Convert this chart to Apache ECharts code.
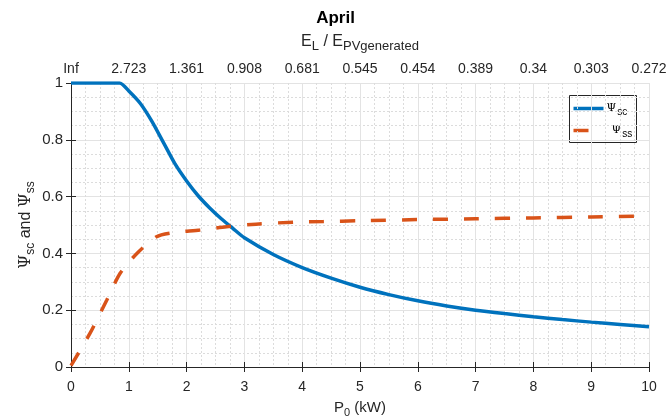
<!DOCTYPE html>
<html>
<head>
<meta charset="utf-8">
<script src="https://cdn.jsdelivr.net/npm/echarts@6/dist/echarts.min.js"></script>
<style>
html,body{margin:0;padding:0;background:#fff;}
#chart{width:671px;height:419px;}
</style>
</head>
<body>
<div id="chart"></div>
<script>
// Data
var xSc = [0, 0.5, 0.84, 1.0, 1.2, 1.4, 1.6, 1.8, 2.0, 2.2, 2.4, 2.6, 2.8, 3.0, 3.5, 4.0, 4.5, 5.0, 5.5, 6.0, 6.5, 7.0, 7.5, 8.0, 8.5, 9.0, 9.5, 10];
var psiSc = [1, 1, 1, 0.972, 0.928, 0.865, 0.790, 0.715, 0.655, 0.603, 0.560, 0.522, 0.488, 0.455, 0.396, 0.350, 0.313, 0.281, 0.255, 0.233, 0.215, 0.200, 0.188, 0.177, 0.167, 0.158, 0.150, 0.142];
var xSs = [0, 0.33, 0.62, 0.85, 1.14, 1.48, 1.76, 2.23, 2.69, 3.2, 3.85, 4.37, 5.0, 6.0, 7.0, 8.0, 9.0, 10];
var psiSs = [0.005, 0.119, 0.236, 0.330, 0.400, 0.459, 0.473, 0.482, 0.494, 0.503, 0.510, 0.512, 0.515, 0.519, 0.522, 0.525, 0.528, 0.532];
var topLabels = ['Inf', '2.723', '1.361', '0.908', '0.681', '0.545', '0.454', '0.389', '0.34', '0.303', '0.272'];
var seriesNames = ['sc', 'ss'];

function pairs(xs, ys) { return xs.map(function (x, i) { return [x, ys[i]]; }); }

var axisColor = '#262626';
var font = 'Liberation Sans, Arial, sans-serif';
var blue = '#0072BD', orange = '#D95319';
var majorGrid = { show: true, lineStyle: { color: '#e3e3e3', width: 1 } };
var minorGrid = { show: true, lineStyle: { color: '#dcdcdc', width: 1, type: [2, 2] } };
var legendRich = {
  p: { fontFamily: 'DejaVu Serif, serif', fontSize: 11, fill: '#000', color: '#000' },
  s: { fontFamily: font, fontSize: 10, fill: '#000', color: '#000', padding: [8, 0, 0, 1] }
};

var chart = echarts.init(document.getElementById('chart'));
chart.setOption({
  animation: false,
  backgroundColor: '#fff',
  title: {
    text: 'April', left: 'center', top: 5,
    textStyle: { fontFamily: font, fontSize: 17, fontWeight: 'bold', color: '#000' }
  },
  grid: { left: 71, right: 22, top: 83, bottom: 52, outerBoundsMode: 'none' },
  graphic: [
    {
      type: 'group', left: 569, top: 95, z: 100,
      children: [
        { type: 'rect', shape: { x: 0, y: 0, width: 67, height: 47 },
          style: { fill: '#fff', stroke: '#262626', lineWidth: 1 } },
        { type: 'line', shape: { x1: 4, y1: 13, x2: 34, y2: 13 },
          style: { stroke: blue, lineWidth: 3.5 } },
        { type: 'line', shape: { x1: 4, y1: 35, x2: 19, y2: 35 },
          style: { stroke: orange, lineWidth: 3.5 } },
        { type: 'text', x: 37, y: 4,
          style: { text: '{p|Ψ}{s|' + seriesNames[0] + '}', rich: legendRich, fontFamily: font } },
        { type: 'text', x: 42, y: 26,
          style: { text: '{p|Ψ}{s|' + seriesNames[1] + '}', rich: legendRich, fontFamily: font } }
      ]
    }
  ],
  xAxis: [
    {
      type: 'value', min: 0, max: 10, interval: 1, position: 'bottom',
      name: '{n|P}{s|0}{n| (kW)}', nameLocation: 'middle', nameGap: 31, nameMoveOverlap: false,
      nameTextStyle: {
        rich: {
          n: { fontFamily: font, fontSize: 15, color: '#262626' },
          s: { fontFamily: font, fontSize: 11, color: '#262626', padding: [9, 0, 0, 0] }
        }
      },
      axisLine: { show: true, lineStyle: { color: axisColor, width: 1 } },
      axisTick: { show: true, inside: true, length: 5, lineStyle: { color: axisColor } },
      axisLabel: { color: '#262626', fontFamily: font, fontSize: 14, margin: 13 },
      splitLine: majorGrid,
      minorTick: { show: false, splitNumber: 4 },
      minorSplitLine: minorGrid
    },
    {
      type: 'value', min: 0, max: 10, interval: 1, position: 'top',
      name: '{n|E}{s|L}{n| / E}{s|PVgenerated}', nameLocation: 'middle', nameGap: 30, nameMoveOverlap: false,
      nameTextStyle: {
        rich: {
          n: { fontFamily: font, fontSize: 16, color: '#262626' },
          s: { fontFamily: font, fontSize: 13, color: '#262626', padding: [10, 0, 0, 0] }
        }
      },
      axisLine: { show: true, lineStyle: { color: axisColor, width: 1 } },
      axisTick: { show: true, inside: true, length: 5, lineStyle: { color: axisColor } },
      axisLabel: {
        color: '#262626', fontFamily: font, fontSize: 14, margin: 7,
        formatter: function (v) { return topLabels[Math.round(v)]; }
      },
      splitLine: { show: false }
    }
  ],
  yAxis: [
    {
      type: 'value', min: 0, max: 1, interval: 0.2, position: 'left',
      name: '{p|Ψ}{s|sc}{n| and }{p|Ψ}{s|ss}', nameLocation: 'middle', nameGap: 34, nameMoveOverlap: false,
      nameRotate: 90,
      nameTextStyle: {
        rich: {
          n: { fontFamily: font, fontSize: 16, color: '#262626' },
          p: { fontFamily: 'DejaVu Serif, serif', fontSize: 16, color: '#262626' },
          s: { fontFamily: font, fontSize: 12, color: '#262626', padding: [11, 0, 0, 0] }
        }
      },
      axisLine: { show: true, lineStyle: { color: axisColor, width: 1 } },
      axisTick: { show: true, inside: true, length: 5, lineStyle: { color: axisColor } },
      axisLabel: { color: '#262626', fontFamily: font, fontSize: 15, margin: 8 },
      splitLine: majorGrid,
      minorTick: { show: false, splitNumber: 4 },
      minorSplitLine: minorGrid
    },
    {
      type: 'value', min: 0, max: 1, interval: 0.2, position: 'right',
      axisLine: { show: true, lineStyle: { color: axisColor, width: 1 } },
      axisTick: { show: true, inside: true, length: 5, lineStyle: { color: axisColor } },
      axisLabel: { show: false },
      splitLine: { show: false }
    }
  ],
  series: [
    {
      name: seriesNames[0], type: 'line', xAxisIndex: 0, yAxisIndex: 0,
      data: pairs(xSc, psiSc), smooth: 0.25, showSymbol: false, symbol: 'none',
      itemStyle: { color: blue },
      lineStyle: { color: blue, width: 3.5 },
      z: 3
    },
    {
      name: seriesNames[1], type: 'line', xAxisIndex: 0, yAxisIndex: 0,
      data: pairs(xSs, psiSs), smooth: 0.25, showSymbol: false, symbol: 'none',
      itemStyle: { color: orange },
      lineStyle: { color: orange, width: 3.5, type: [15, 16] },
      z: 4
    }
  ]
});
</script>
</body>
</html>
